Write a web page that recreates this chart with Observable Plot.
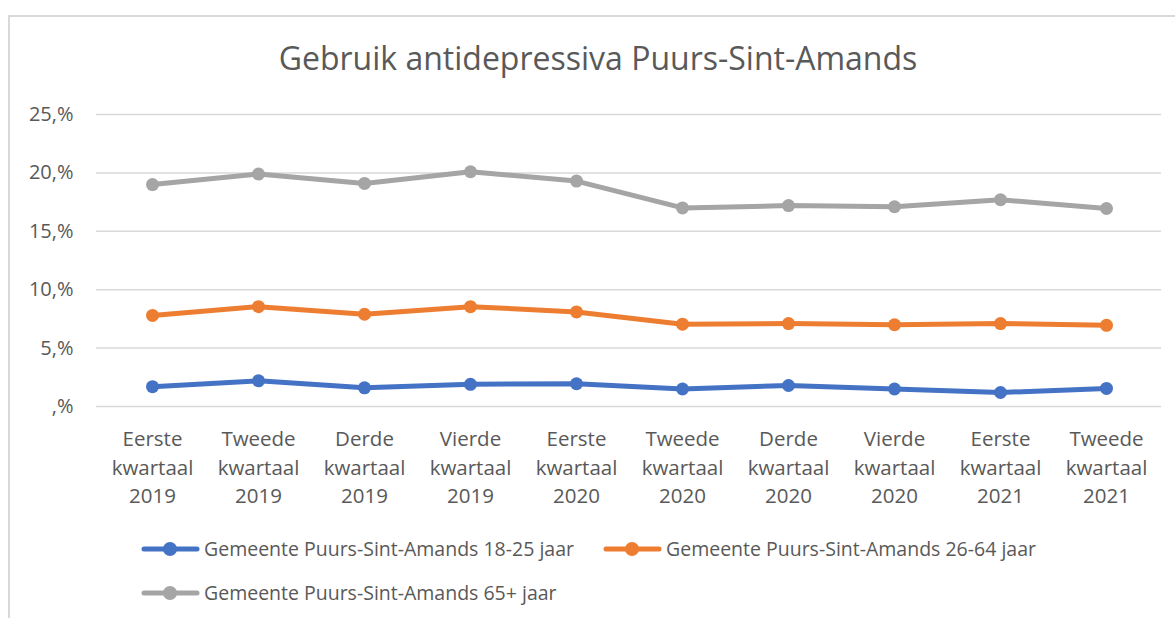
<!DOCTYPE html>
<html>
<head>
<meta charset="utf-8">
<script src="https://cdn.jsdelivr.net/npm/d3@7"></script>
<script src="https://cdn.jsdelivr.net/npm/@observablehq/plot@0.6"></script>
<style>
  html, body { margin: 0; padding: 0; background: #fff; overflow: hidden; }
  #wrap { position: relative; width: 1175px; height: 618px; font-family: "Open Sans", sans-serif; color: #595959; }
  #frame { position: absolute; left: 8px; top: 15px; width: 1200px; height: 700px; border-left: 2px solid #d9d9d9; border-top: 2px solid #d9d9d9; box-sizing: border-box; }
  #title { position: absolute; left: 0; width: 1196px; top: 42px; text-align: center; font-size: 32px; line-height: 32px; white-space: nowrap; }
  #chart { position: absolute; left: 0; top: 90px; }
  .item { position: absolute; display: flex; align-items: center; height: 24px; font-size: 19.5px; line-height: 24px; white-space: nowrap; }
  .item svg { margin-right: 4px; }
</style>
</head>
<body>
<div id="wrap">
  <div id="frame"></div>
  <div id="title">Gebruik antidepressiva Puurs-Sint-Amands</div>
  <div id="chart"></div>
  <div id="legend"></div>
</div>
<script>
const quarters = [
  "Eerste kwartaal 2019", "Tweede kwartaal 2019", "Derde kwartaal 2019", "Vierde kwartaal 2019",
  "Eerste kwartaal 2020", "Tweede kwartaal 2020", "Derde kwartaal 2020", "Vierde kwartaal 2020",
  "Eerste kwartaal 2021", "Tweede kwartaal 2021"
];
const seriesNames = [
  "Gemeente Puurs-Sint-Amands 18-25 jaar",
  "Gemeente Puurs-Sint-Amands 26-64 jaar",
  "Gemeente Puurs-Sint-Amands 65+ jaar"
];
const seriesColors = ["#4472C4", "#ED7D31", "#A5A5A5"];
const values18_25 = [1.7, 2.2, 1.6, 1.9, 1.95, 1.5, 1.8, 1.5, 1.2, 1.55];
const values26_64 = [7.8, 8.55, 7.9, 8.55, 8.1, 7.05, 7.1, 7.0, 7.1, 6.95];
const values65plus = [19.0, 19.9, 19.1, 20.1, 19.3, 17.0, 17.2, 17.1, 17.7, 16.95];
const yTicks = [0, 5, 10, 15, 20, 25];

const seriesValues = [values18_25, values26_64, values65plus];
const data = [];
seriesNames.forEach((s, si) => {
  quarters.forEach((q, qi) => data.push({series: s, quarter: q, value: seriesValues[si][qi]}));
});

const chart = Plot.plot({
  width: 1175,
  height: 430,
  marginLeft: 96,
  marginRight: 14,
  marginTop: 24,
  marginBottom: 114,
  style: {fontFamily: "'Open Sans', sans-serif", fontSize: "20px", color: "#595959", background: "transparent"},
  x: {type: "point", domain: quarters, padding: 0.5},
  y: {domain: [0, 25]},
  color: {domain: seriesNames, range: seriesColors},
  marks: [
    Plot.gridY(yTicks, {stroke: "#d9d9d9", strokeOpacity: 1, strokeWidth: 1.5}),
    Plot.axisY(yTicks, {tickSize: 0, tickPadding: 23, label: null, fontSize: 20, fill: "#595959",
      tickFormat: d => d === 0 ? ",%" : d + ",%"}),
    Plot.axisX({tickSize: 0, tickPadding: 19, label: null, fontSize: 20.5, fill: "#595959", lineHeight: 1.4,
      tickFormat: d => d.split(" ").join("\n")}),
    Plot.line(data, {x: "quarter", y: "value", z: "series", stroke: "series", strokeWidth: 5, strokeLinejoin: "round", strokeLinecap: "round"}),
    Plot.dot(data, {x: "quarter", y: "value", fill: "series", r: 6.5, stroke: null})
  ]
});
document.getElementById("chart").appendChild(chart);

const legendPos = [{left: 141, top: 537}, {left: 603, top: 537}, {left: 141, top: 581}];
const legend = document.getElementById("legend");
seriesNames.forEach((s, i) => {
  const div = document.createElement("div");
  div.className = "item";
  div.style.left = legendPos[i].left + "px";
  div.style.top = legendPos[i].top + "px";
  div.innerHTML = `<svg width="59" height="20"><line x1="3" x2="56" y1="10" y2="10" stroke="${seriesColors[i]}" stroke-width="5" stroke-linecap="round"/><circle cx="29" cy="10" r="7" fill="${seriesColors[i]}"/></svg><span>${s}</span>`;
  legend.appendChild(div);
});
</script>
</body>
</html>
